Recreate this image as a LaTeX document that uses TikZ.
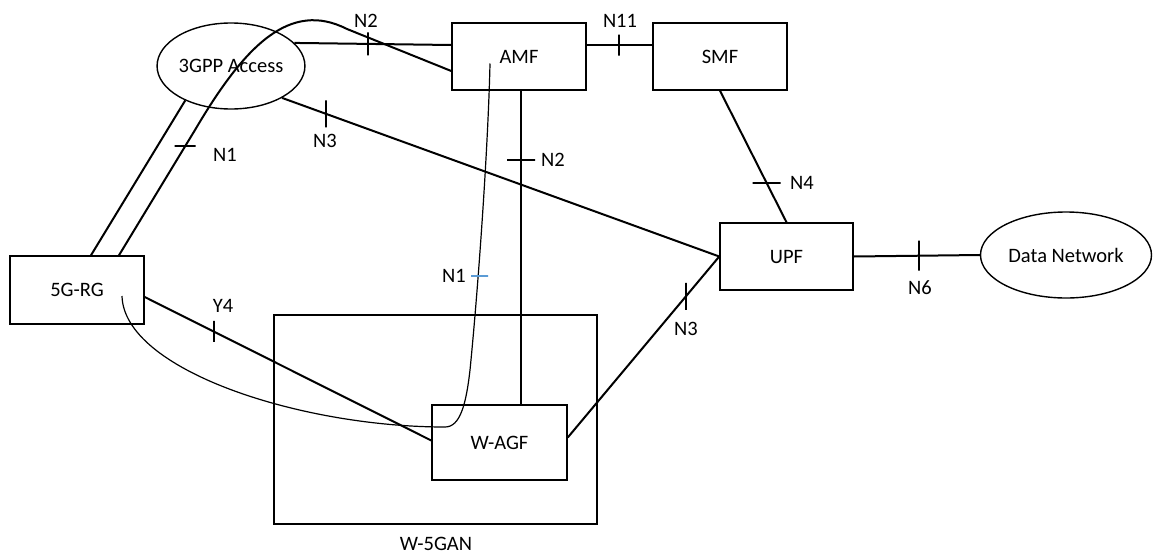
\documentclass[tikz,border=0pt]{standalone}
\usepackage{fontspec}
\setmainfont{Carlito}
\usetikzlibrary{shapes.geometric,calc}
\definecolor{tickblue}{HTML}{5B9BD5}
\begin{document}
\begin{tikzpicture}[x=1pt,y=-1pt,
  every node/.style={font=\fontsize{20.5}{24}\selectfont},
  box/.style={draw, line width=1.5pt, rectangle, inner sep=0pt},
  oval/.style={draw, line width=1.4pt, ellipse, inner sep=0pt},
  link/.style={line width=2pt},
  fine/.style={line width=1.2pt},
  vtk/.style={draw, line width=2pt, minimum width=0pt, minimum height=#1, inner sep=0pt, outer sep=0pt},
  htk/.style={draw, line width=2pt, minimum height=0pt, minimum width=#1, inner sep=0pt, outer sep=0pt},
  lbl/.style={inner sep=1pt}
]
\useasboundingbox (0,0) rectangle (1156,554);

% nodes
\node[oval, minimum width=134pt, minimum height=86pt] (acc) at (231,66) {3GPP Access};
\node[box, minimum width=134pt, minimum height=67pt] (amf) at (519,56.5) {AMF};
\node[box, minimum width=134pt, minimum height=67pt] (smf) at (720,56.5) {SMF};
\node[box, minimum width=133pt, minimum height=67pt] (upf) at (786.5,256.5) {UPF};
\node[oval, minimum width=171pt, minimum height=86pt] (dn) at (1066,255) {Data Network};
\node[box, minimum width=134pt, minimum height=68pt] (rg) at (77,290) {5G-RG};
\node[box, minimum width=323pt, minimum height=209pt] (wgan) at (435.5,419.5) {};
\node[box, minimum width=135pt, minimum height=75pt] (wagf) at (499.5,442.5) {W-AGF};
\node[lbl] (wganl) at (436,544) {W-5GAN};

% helper coordinates
\coordinate (a2) at ([xshift=2pt]amf.south);
\coordinate (n1s) at ([xshift=45pt,yshift=-6pt]rg.center);
\coordinate (n1e) at ([xshift=-29pt,yshift=-7pt]amf.center);

% N2 (3GPP Access - AMF)
\draw[link] (acc.20) -- node[pos=0.47, vtk=23pt]{} ([yshift=11.5pt]amf.west);
\node[lbl] (ln2a) at (366,21) {N2};

% N11
\draw[link] ([yshift=11.5pt]amf.east) -- node[pos=0.49, vtk=21pt]{} ([yshift=11.5pt]smf.west);
\node[lbl] (ln11) at (620,21) {N11};

% N2 (AMF - W-AGF)
\draw[link] (a2) -- node[pos=0.222, htk=28pt]{} (a2 |- wagf.north);
\node[lbl] (ln2b) at (553,160) {N2};

% N4
\draw[link] (smf.south) -- node[pos=0.70, htk=28pt]{} (upf.north);
\node[lbl] (ln4) at (802,183) {N4};

% N3 upper
\draw[link] (acc.-32) -- node[pos=0.1, vtk=27pt]{} (upf.west);
\node[lbl] (ln3a) at (325,141) {N3};

% N3 lower
\draw[link] ([yshift=5pt]wagf.east) -- node[pos=0.78, vtk=27pt]{} (upf.west);
\node[lbl] (ln3b) at (686,329) {N3};

% N6
\draw[link] (upf.east) -- node[pos=0.52, vtk=30pt]{} (dn.west);
\node[lbl] (ln6) at (920,288) {N6};

% Y4
\draw[link] ([yshift=-7pt]rg.east) -- node[pos=0.24, vtk=21pt]{} ([yshift=2pt]wagf.west);
\node[lbl] (ly4) at (223,306) {Y4};

% N1 (5G-RG - 3GPP Access - AMF)
\draw[link] ([xshift=14pt]rg.north) -- (acc.217);
\draw[link] ([xshift=42pt]rg.north) -- node[pos=0.87, htk=21pt]{} (195,130)
   .. controls (245,45) and (290,0) .. (347,29) -- ([yshift=-14.5pt]amf.west);
\node[lbl] (ln1a) at (225,155) {N1};

% N1 via W-AGF (thin)
\draw[fine] (n1s) .. controls (124,370) and (300,427) .. (445,427)
   .. controls (460,427) and (466,405) .. (470,370)
   .. controls (478,290) and (488,150) .. (n1e);
\node[draw=tickblue, line width=1.5pt, minimum width=17pt, minimum height=0pt, inner sep=0pt] (btk) at (479.5,276) {};
\node[lbl] (ln1b) at (454,276) {N1};
\end{tikzpicture}
\end{document}
